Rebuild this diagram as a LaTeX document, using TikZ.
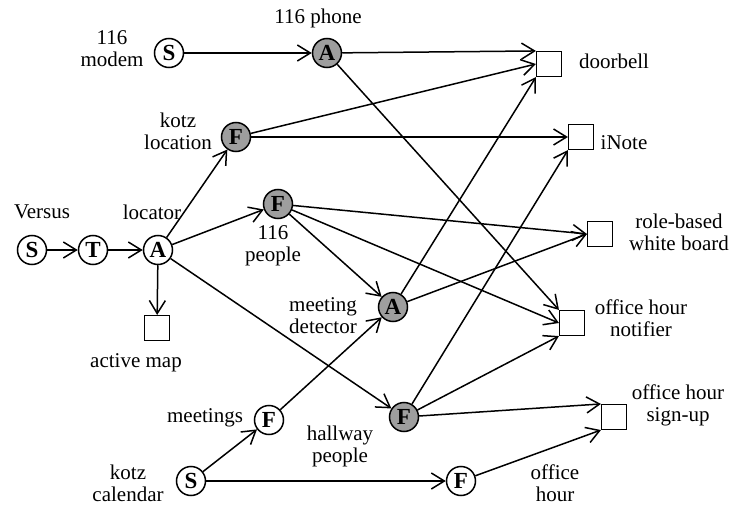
\documentclass[tikz,border=0pt]{standalone}
\usepackage{fontspec}
\setmainfont{Liberation Serif}
\usepackage{tikz}
\usetikzlibrary{positioning,arrows.meta}

\begin{document}
\begin{tikzpicture}[
    x=1pt, y=-1pt,
    roundnode/.style={circle, draw=black, line width=1.5pt, fill=white, inner sep=0pt, minimum size=29pt, font=\fontsize{23}{23}\selectfont\bfseries},
    greynode/.style={roundnode, fill=black!38},
    boxnode/.style={rectangle, draw=black, line width=1.1pt, inner sep=0pt, minimum size=25pt},
    lbl/.style={align=center, inner sep=0pt, font=\fontsize{21}{22}\selectfont},
    link/.style={-{Straight Barb[length=13pt,width=16pt]}, line width=1.5pt, draw=black}
    ]
        \useasboundingbox (0,0) rectangle (732,506);
        %Nodes
        \node[roundnode]
            (vs)     at (32,250)    {S};
        \node[roundnode]
            (tt)     at (93,250)    {T};
        \node[roundnode]
            (loc)    at (158,250)   {A};
        \node[roundnode]
            (modem)  at (169,53)    {S};
        \node[greynode]
            (phone)  at (327,53)    {A};
        \node[greynode]
            (kloc)   at (236,137)   {F};
        \node[greynode]
            (ppl)    at (278,204)   {F};
        \node[greynode]
            (meet)   at (393,307)   {A};
        \node[roundnode]
            (mtgs)   at (269,420)   {F};
        \node[roundnode]
            (cal)    at (191,481)   {S};
        \node[greynode]
            (hall)   at (404,417)   {F};
        \node[roundnode]
            (ohour)  at (461,481)   {F};
        \node[boxnode]
            (amap)   at (157,328)   {};
        \node[boxnode]
            (door)   at (549,64)    {};
        \node[boxnode]
            (inote)  at (581,137)   {};
        \node[boxnode]
            (role)   at (600,234)   {};
        \node[boxnode]
            (notif)  at (572,323)   {};
        \node[boxnode]
            (signup) at (614,417)   {};

        %Labels
        \node[lbl] (modemlbl)  at (112,49)  {116\\modem};
        \node[lbl] (phonelbl)  at (318,18)  {116 phone};
        \node[lbl] (kloclbl)   at (178,131) {kotz\\location};
        \node[lbl] (vslbl)     at (42,212)  {Versus};
        \node[lbl] (loclbl)    at (152,212) {locator};
        \node[lbl] (ppllbl)    at (273,246) {116\\people};
        \node[lbl] (meetlbl)   at (323,316) {meeting\\detector};
        \node[lbl] (amaplbl)   at (136,363) {active map};
        \node[lbl] (mtgslbl)   at (205,418) {meetings};
        \node[lbl] (callbl)    at (128,483) {kotz\\calendar};
        \node[lbl] (halllbl)   at (340,446) {hallway\\people};
        \node[lbl] (ohourlbl)  at (555,483) {office\\hour};
        \node[lbl] (doorlbl)   at (614,61)  {doorbell};
        \node[lbl] (inotelbl)  at (624,143) {iNote};
        \node[lbl] (rolelbl)   at (679,232) {role-based\\white board};
        \node[lbl] (notiflbl)  at (641,318) {office hour\\notifier};
        \node[lbl] (signuplbl) at (678,405) {office hour\\sign-up};

        %Lines
        \draw[link] (vs) -- (tt);
        \draw[link] (tt) -- (loc);
        \draw[link] (loc) -- (kloc);
        \draw[link] (loc) -- (ppl);
        \draw[link] (loc) -- (amap);
        \draw[link] (loc) -- (hall);
        \draw[link] (modem) -- (phone);
        \draw[link] (phone) -- (door.north west);
        \draw[link] (phone) -- (notif.north west);
        \draw[link] (kloc) -- (door.west);
        \draw[link] (kloc) -- (inote.west);
        \draw[link] (ppl) -- (role.west);
        \draw[link] (ppl) -- (notif.west);
        \draw[link] (ppl) -- (meet);
        \draw[link] (meet) -- (door.south west);
        \draw[link] (meet) -- (role.west);
        \draw[link] (mtgs) -- (meet);
        \draw[link] (hall) -- (inote.south west);
        \draw[link] (hall) -- (notif.south west);
        \draw[link] (hall) -- (signup.north west);
        \draw[link] (cal) -- (mtgs);
        \draw[link] (cal) -- (ohour);
        \draw[link] (ohour) -- (signup.south west);
    \end{tikzpicture}
\end{document}
